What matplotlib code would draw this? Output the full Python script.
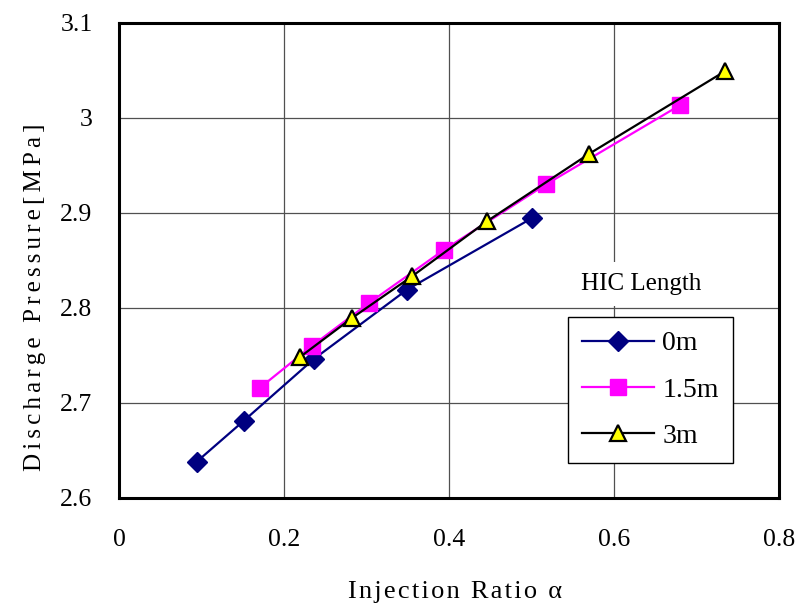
import matplotlib
matplotlib.use("Agg")
import matplotlib.pyplot as plt

plt.rcParams["font.family"] = ["Liberation Serif", "DejaVu Serif"]

# HIC length 0 m
x_0m = [0.094, 0.151, 0.236, 0.349, 0.500]
p_0m = [2.638, 2.681, 2.746, 2.819, 2.894]
# HIC length 1.5 m
x_15m = [0.171, 0.234, 0.303, 0.394, 0.518, 0.680]
p_15m = [2.716, 2.760, 2.805, 2.861, 2.930, 3.013]
# HIC length 3 m
x_3m = [0.219, 0.282, 0.355, 0.446, 0.570, 0.735]
p_3m = [2.748, 2.789, 2.833, 2.891, 2.962, 3.049]

x_ticks = [0, 0.2, 0.4, 0.6, 0.8]
y_ticks = [2.6, 2.7, 2.8, 2.9, 3.0, 3.1]
y_tick_labels = ["2.6", "2.7", "2.8", "2.9", "3", "3.1"]
x_tick_labels = ["0", "0.2", "0.4", "0.6", "0.8"]


def spaced(text, gap="\u200a"):
    """Loosen letter spacing to mimic the original renderer."""
    return gap.join(text)


W, H = 797, 609
fig = plt.figure(figsize=(W / 100, H / 100), dpi=100)
ax = fig.add_axes([119 / W, 1 - 498 / H, 660 / W, 475.5 / H])

ax.plot(x_0m, p_0m, color="#000080", lw=1.6, marker="D", ms=10.5,
        mfc="#000080", mec="#000080", label="0m", zorder=3)
ax.plot(x_15m, p_15m, color="#FF00FF", lw=1.6, marker="s", ms=11.5,
        mfc="#FF00FF", mec="#FF00FF", label="1.5m", zorder=3)
ax.plot(x_3m, p_3m, color="black", lw=1.6, marker="^", ms=11,
        mfc="#FFFF00", mec="black", mew=1.6, label="3m", zorder=4)

ax.set_xlim(0, 0.8)
ax.set_ylim(2.6, 3.1)
ax.set_xticks(x_ticks, x_tick_labels)
ax.set_yticks(y_ticks, y_tick_labels)
ax.tick_params(length=0, labelsize=18.5)
ax.tick_params(axis="x", pad=22)
ax.tick_params(axis="y", pad=19)
ax.grid(True, color="#505050", lw=0.9)
ax.set_axisbelow(True)
for s in ax.spines.values():
    s.set_linewidth(2.2)
    s.set_zorder(5)

leg = ax.legend(loc="upper left", bbox_to_anchor=(568 / W, 1 - 317 / H),
                bbox_transform=fig.transFigure, borderaxespad=0,
                fontsize=20, handlelength=2.6, handletextpad=0.3,
                labelspacing=0.75, borderpad=0.5, fancybox=False,
                framealpha=1, edgecolor="black")
leg.get_frame().set_linewidth(1.0)
leg.set_zorder(6)

fig.text(641 / W, 1 - 284 / H, "HIC Length", fontsize=18,
         ha="center", va="center", zorder=7,
         bbox=dict(boxstyle="square,pad=0.45", fc="white", ec="none"))

fig.text(35 / W, 1 - 297 / H, spaced("Discharge Pressure[MPa]", "\u2006"),
         fontsize=18, rotation=90, ha="center", va="center")
fig.text(455 / W, 1 - 592 / H, spaced("Injection Ratio α"),
         fontsize=19, ha="center", va="center")

fig.savefig("out.png", dpi=100)
